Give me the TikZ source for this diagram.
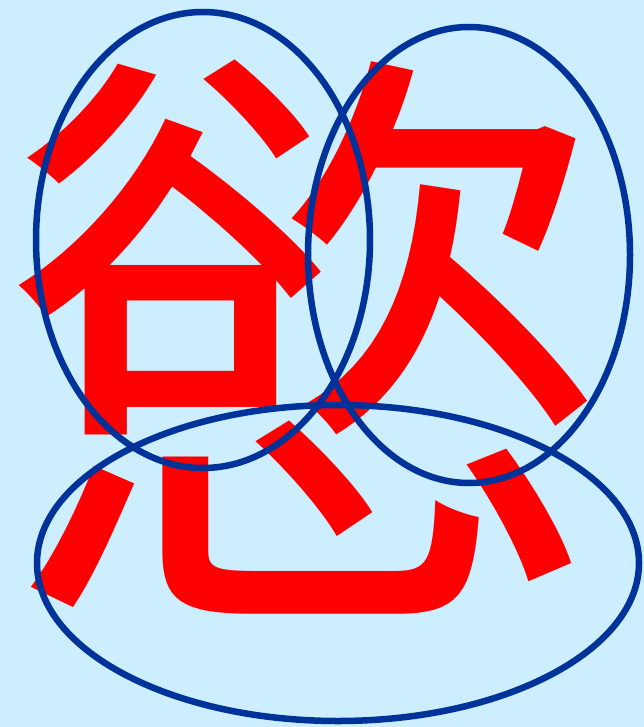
\documentclass[tikz,border=0pt]{standalone}
\usepackage{fontspec}
\newfontfamily\cjk{Noto Sans CJK TC}
\definecolor{bgblue}{HTML}{CCEEFF}
\definecolor{ringblue}{HTML}{003399}
\begin{document}
\begin{tikzpicture}[x=1pt,y=-1pt,
  ring/.style={draw=ringblue,line width=6.5pt}]
\fill[bgblue] (0,0) rectangle (644,727);
\useasboundingbox (0,0) rectangle (644,727);
\node[text=red,inner sep=0pt,font=\cjk\fontsize{612}{612}\selectfont] (ch) at (308,337) {慾};
\draw[ring] (203,240) ellipse [x radius=167,y radius=228];
\draw[ring] (469,255) ellipse [x radius=161,y radius=228];
\draw[ring] (338,563) ellipse [x radius=301,y radius=158];
\end{tikzpicture}
\end{document}
